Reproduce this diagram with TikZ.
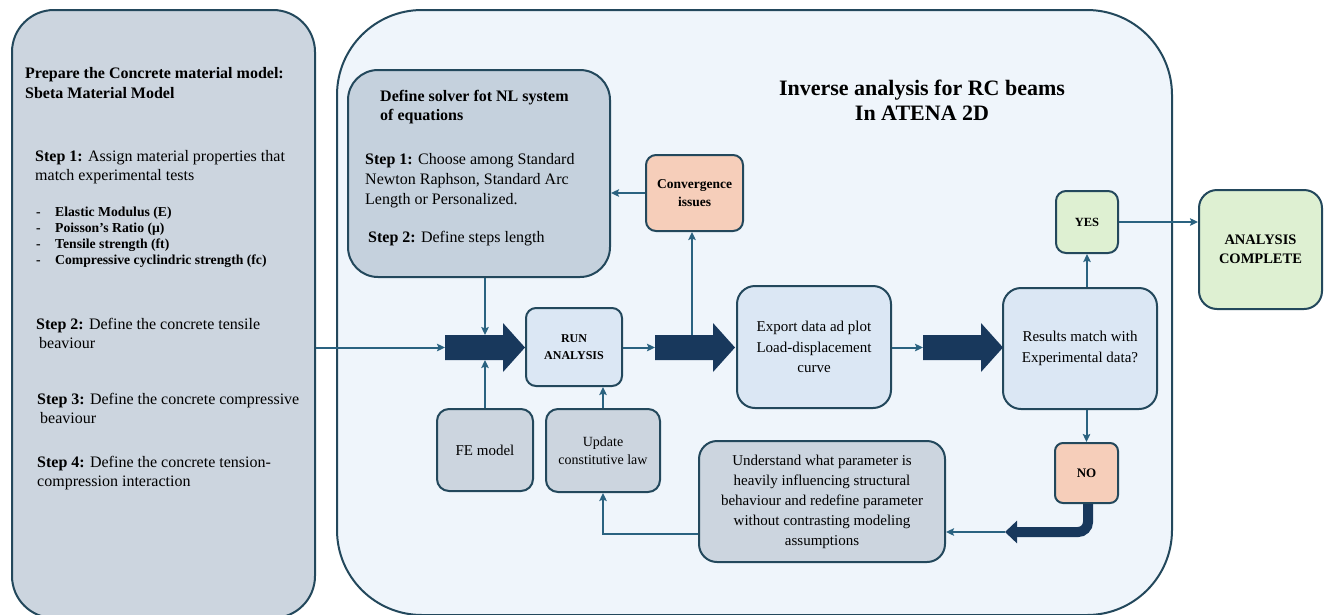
\documentclass[tikz,border=0pt]{standalone}
\usepackage{fontspec}
\setmainfont{Liberation Serif}
\usetikzlibrary{arrows.meta,calc}
\definecolor{bord}{RGB}{35,72,92}
\definecolor{conn}{RGB}{42,98,128}
\definecolor{navy}{RGB}{24,56,92}
\definecolor{lpfill}{RGB}{204,213,223}
\definecolor{mainfill}{RGB}{239,245,251}
\definecolor{grayb}{RGB}{204,213,223}
\definecolor{solverfill}{RGB}{197,209,221}
\definecolor{blueb}{RGB}{219,231,244}
\definecolor{peach}{RGB}{246,206,186}
\definecolor{greenb}{RGB}{222,240,210}
\begin{document}
\begin{tikzpicture}[x=1pt,y=-1pt,
  box/.style={draw=bord, line width=2pt, rounded corners=#1, inner sep=0pt, align=center},
  box/.default=10pt,
  txt/.style={anchor=north west, inner sep=0pt, align=left},
  bigarr/.pic={\fill[navy] (0,-12.5) -- (58,-12.5) -- (58,-24.5) -- (80,0)
      -- (58,24.5) -- (58,12.5) -- (0,12.5) -- cycle;},
  conn/.style={draw=conn, line width=2pt, -{Stealth[length=8pt,width=7.5pt,inset=1.5pt]}},
  connl/.style={draw=conn, line width=2pt}
]
\useasboundingbox (0,0) rectangle (1327,614);
\fill[white] (0,0) rectangle (1327,614);

% panels
\node[draw=bord, line width=2pt, fill=lpfill, rounded corners=42pt, inner sep=0pt,
  minimum width=303pt, minimum height=608pt] (lp) at (163.5,314) {};
\node[draw=bord, line width=2pt, fill=mainfill, rounded corners=85pt, inner sep=0pt,
  minimum width=835pt, minimum height=605pt] (main) at (754.5,312.5) {};

% left panel text
\node[txt, font=\fontsize{16}{20}\selectfont\bfseries] (lt) at (25,67)
  {Prepare the Concrete material model:\\Sbeta Material Model};
\node[txt, font=\fontsize{16}{19}\selectfont] (l1) at (35,150)
  {\textbf{Step 1:} Assign material properties that\\match experimental tests};
\node[txt, font=\fontsize{13.7}{16}\selectfont\bfseries] (lb) at (36,207)
  {\makebox[19pt][l]{-}Elastic Modulus (E)\\
   \makebox[19pt][l]{-}Poisson’s Ratio (μ)\\
   \makebox[19pt][l]{-}Tensile strength (ft)\\
   \makebox[19pt][l]{-}Compressive cyclindric strength (fc)};
\node[txt, font=\fontsize{16}{19}\selectfont] (l2) at (36,318)
  {\textbf{Step 2:} Define the concrete tensile\\\hspace*{3pt}beaviour};
\node[txt, font=\fontsize{16}{19}\selectfont] (l3) at (37,393)
  {\textbf{Step 3:} Define the concrete compressive\\\hspace*{3pt}beaviour};
\node[txt, font=\fontsize{16}{19}\selectfont] (l4) at (37,456)
  {\textbf{Step 4:} Define the concrete tension-\\compression interaction};

% title
\node[anchor=north, inner sep=0pt, align=center, font=\fontsize{22}{25}\selectfont\bfseries]
  (title) at (922,80) {Inverse analysis for RC beams\\In ATENA 2D};

% solver box
\node[box=30pt, fill=solverfill, minimum width=262pt, minimum height=207pt] (solver) at (479,173.5) {};
\node[txt, font=\fontsize{16}{19}\selectfont\bfseries] (st) at (380,90)
  {Define solver fot NL system\\of equations};
\node[txt, font=\fontsize{16}{20}\selectfont] (s1) at (365,153)
  {\textbf{Step 1:} Choose among Standard\\Newton Raphson, Standard Arc\\Length or Personalized.};
\node[txt, font=\fontsize{16}{20}\selectfont] (s2) at (368,231)
  {\textbf{Step 2:} Define steps length};

% boxes
\node[box=10pt, fill=peach, minimum width=97pt, minimum height=76pt,
  font=\fontsize{13.5}{18}\selectfont\bfseries] (conv) at (694.5,193) {Convergence\\issues};
\node[box=10pt, fill=blueb, minimum width=96pt, minimum height=78pt,
  font=\fontsize{12}{17}\selectfont\bfseries] (run) at (574,347) {RUN\\ANALYSIS};
\node[box=18pt, fill=blueb, minimum width=154pt, minimum height=122pt,
  font=\fontsize{15}{20.5}\selectfont] (export) at (814,347) {Export data ad plot\\Load-displacement\\curve};
\node[box=18pt, fill=blueb, minimum width=154pt, minimum height=121pt,
  font=\fontsize{15}{21}\selectfont] (res) at (1080,348.5) {Results match with\\Experimental data?};
\node[box=10pt, fill=greenb, minimum width=62pt, minimum height=62pt,
  font=\fontsize{12.5}{15}\selectfont\bfseries] (yes) at (1087,222) {YES};
\node[box=18pt, fill=greenb, minimum width=123pt, minimum height=119pt,
  font=\fontsize{14.5}{19}\selectfont\bfseries] (ac) at (1260.5,249.5) {ANALYSIS\\COMPLETE};
\node[box=8pt, fill=peach, minimum width=63pt, minimum height=60pt,
  font=\fontsize{13}{15}\selectfont\bfseries] (no) at (1086.5,473) {NO};
\node[box=18pt, fill=grayb, minimum width=246pt, minimum height=121pt,
  font=\fontsize{15}{20}\selectfont] (und) at (822,501.5)
  {Understand what parameter is\\heavily influencing structural\\behaviour and redefine parameter\\without contrasting modeling\\assumptions};
\node[box=12pt, fill=grayb, minimum width=114pt, minimum height=83pt,
  font=\fontsize{14}{18}\selectfont] (upd) at (603,450.5) {Update\\constitutive law};
\node[box=12pt, fill=grayb, minimum width=96pt, minimum height=82pt,
  font=\fontsize{15}{18}\selectfont] (fe) at (485,450) {FE model};

% big arrows (tails named)
\coordinate (a1) at (445,347.5);
\coordinate (a2) at (655,347.5);
\coordinate (a3) at (923,347.5);
\pic at (a1) {bigarr};
\pic at (a2) {bigarr};
\pic at (a3) {bigarr};

\coordinate (a1t) at (485,335);
\coordinate (a1b) at (485,360);
\coordinate (a2t) at (692,335);
\coordinate (notip) at (1005,532);

% connectors
\draw[conn] (lp.east |- a1) -- (a1);
\draw[conn] (solver.south -| a1t) -- (a1t);
\draw[conn] (fe.north) -- (a1b);
\draw[conn] (run.east |- a2) -- (a2);
\draw[conn] (a2t) -- (a2t |- conv.south);
\draw[conn] (conv.west) -- (conv.west -| solver.east);
\draw[conn] (export.east |- a3) -- (a3);
\draw[conn] (yes.south |- res.north) -- (yes.south);
\draw[conn] (yes.east) -- (yes.east -| ac.west);
\draw[conn] (no.north |- res.south) -- (no.north);
\draw[navy, line width=10pt, rounded corners=10pt, -{Triangle[length=12pt,width=22pt]}]
  ([xshift=1.5pt]no.south) -- ([xshift=1.5pt]no.south |- notip) -- (notip);
\draw[conn] (notip) -- (notip -| und.east);
\draw[conn] ([yshift=-32pt]und.west) -- ([yshift=-32pt]und.west -| upd.south) -- (upd.south);
\draw[conn] (upd.north) -- (upd.north |- run.south);
\end{tikzpicture}
\end{document}
